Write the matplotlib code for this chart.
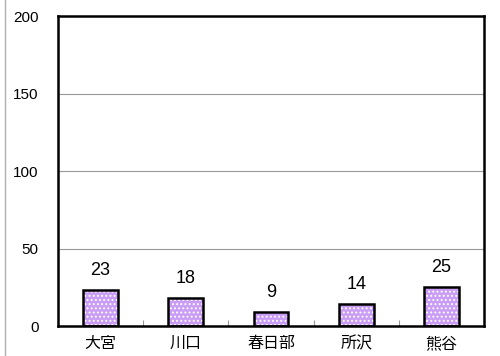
import numpy as np
import matplotlib
matplotlib.use("Agg")
from matplotlib import pyplot as plt
from matplotlib.lines import Line2D

plt.rcParams['font.family'] = ['Liberation Sans', 'Noto Sans CJK JP', 'DejaVu Sans']
plt.rcParams['hatch.linewidth'] = 0.9

cities = ["大宮", "川口", "春日部", "所沢", "熊谷"]
counts = [23, 18, 9, 14, 25]
yticks = [0, 50, 100, 150, 200]

fig = plt.figure(figsize=(5, 3.56), dpi=100)
ax = fig.add_axes([0.116, 0.084, 0.852, 0.871])

x = np.arange(len(cities))

# dotted purple fill, then the black outline on top
ax.bar(x, counts, width=0.41, color="#c99cf6", edgecolor="white",
       hatch="....", linewidth=0, zorder=2)
ax.bar(x, counts, width=0.41, fill=False, edgecolor="black",
       linewidth=1.8, zorder=3)

for xi, c in zip(x, counts):
    ax.annotate(str(c), (xi, c), xytext=(0, 8), textcoords="offset points",
                ha="center", va="bottom", fontsize=13)

ax.set_xlim(-0.5, len(cities) - 0.5)
ax.set_ylim(0, 200)
ax.set_yticks(yticks)
ax.tick_params(axis="y", length=0, labelsize=11, pad=14)
ax.set_xticks(x)
ax.set_xticklabels(cities, fontsize=11.5)
ax.tick_params(axis="x", length=0, pad=7)
ax.set_xticks(np.arange(0.5, len(cities) - 0.5), minor=True)
ax.tick_params(axis="x", which="minor", direction="in", length=4,
               color="#999999", width=0.8)

ax.yaxis.grid(True, color="#999999", linewidth=0.8, zorder=0)
ax.set_axisbelow(True)
for s in ax.spines.values():
    s.set_linewidth(1.8)

# thin gray rule along the left edge of the figure
fig.add_artist(Line2D([0.009, 0.009], [0.0, 1.0], transform=fig.transFigure,
                      color="#b0b0b0", linewidth=1))

fig.savefig("out.png", dpi=100)
